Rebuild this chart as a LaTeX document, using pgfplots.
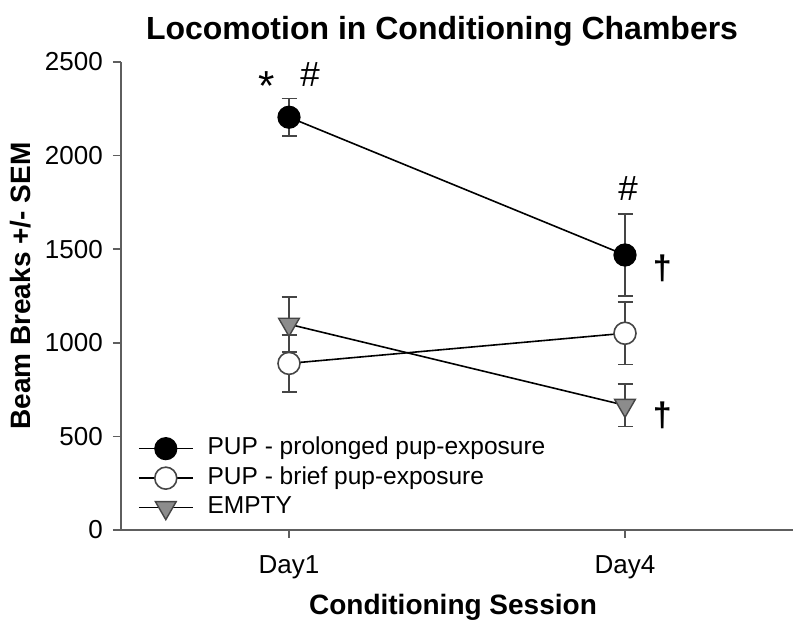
\documentclass[border=0pt]{standalone}
\usepackage{fontspec}
\setmainfont{Liberation Sans}
\usepackage{pgfplots}
\pgfplotsset{compat=1.18}
\definecolor{axgray}{HTML}{5E5E5E}
\definecolor{errgray}{HTML}{454545}
\definecolor{trigray}{HTML}{8C8C8C}
\begin{document}
\begin{tikzpicture}
\begin{axis}[
  at={(121pt,101pt)}, anchor=south west,
  scale only axis, width=672pt, height=468pt,
  xmin=0.5, xmax=2.5, ymin=0, ymax=2500,
  axis lines=left, axis line style={-, axgray, line width=2.2pt},
  xtick={1,2}, xticklabels={Day1,Day4},
  ytick={0,500,1000,1500,2000,2500},
  tick align=outside, major tick length=8pt,
  tick style={axgray, line width=1.6pt},
  /pgf/number format/assume math mode=true,
  /pgf/number format/1000 sep={},
  ticklabel style={font=\fontsize{26}{30}\selectfont, inner sep=0pt},
  yticklabel style={anchor=east, xshift=-10pt},
  xticklabel style={anchor=base, yshift=-36pt},
  title={Locomotion in Conditioning Chambers},
  title style={at={(rel axis cs:0.4777,1.0363)}, anchor=base, inner sep=0pt, font=\bfseries\fontsize{32}{36}\selectfont},
  xlabel={Conditioning Session},
  xlabel style={at={(rel axis cs:0.494,-0.1795)}, anchor=base, inner sep=0pt, font=\bfseries\fontsize{28}{32}\selectfont},
  ylabel={Beam Breaks +/- SEM},
  ylabel style={at={(rel axis cs:-0.1354,0.521)}, anchor=base, inner sep=0pt, font=\bfseries\fontsize{28}{32}\selectfont},
  legend style={at={(rel axis cs:0.025,0.202)}, anchor=north west, draw=none, fill=none,
    font=\fontsize{24.5}{28}\selectfont, inner sep=0pt, row sep=3.5pt,
    nodes={text height=17pt, text depth=5pt}},
  legend cell align=left,
  legend image code/.code={\draw[mark repeat=2,mark phase=2] plot coordinates {(0pt,0pt)(27pt,0pt)(54pt,0pt)};
    \path (66pt,0pt);},
  clip=false,
]
% PUP - prolonged pup-exposure
\addplot[black, line width=1.6pt, mark=*, mark size=11pt,
  mark options={fill=black, draw=black, line width=1.2pt},
  error bars/.cd, y dir=both, y explicit,
  error bar style={errgray, line width=1.6pt},
  error mark options={rotate=90, mark size=7.5pt, errgray, line width=1.6pt}]
  coordinates {(1,2205) +- (0,101) (2,1469) +- (0,219)};
\addlegendentry{PUP - prolonged pup-exposure}
% PUP - brief pup-exposure
\addplot[black, line width=1.6pt, mark=*, mark size=11pt,
  mark options={fill=white, draw=errgray, line width=1.6pt},
  error bars/.cd, y dir=both, y explicit,
  error bar style={errgray, line width=1.6pt},
  error mark options={rotate=90, mark size=7.5pt, errgray, line width=1.6pt}]
  coordinates {(1,890) +- (0,152) (2,1051) +- (0,166)};
\addlegendentry{PUP - brief pup-exposure}
% EMPTY
\addplot[black, line width=1.6pt, mark=triangle*, mark size=12pt,
  mark options={fill=trigray, draw=errgray, line width=1.4pt, rotate=180},
  error bars/.cd, y dir=both, y explicit,
  error bar style={errgray, line width=1.6pt},
  error mark options={rotate=90, mark size=7.5pt, errgray, line width=1.6pt}]
  coordinates {(1,1099) +- (0,147) (2,666) +- (0,114)};
\addlegendentry{EMPTY}
% significance marks
\node[font=\fontsize{42}{42}\selectfont, inner sep=0pt, anchor=north] at (axis cs:0.934,2452) {*};
\node[font=\fontsize{35}{35}\selectfont, inner sep=0pt] at (axis cs:1.063,2431) {\#};
\node[font=\fontsize{35}{35}\selectfont, inner sep=0pt] at (axis cs:2.009,1822) {\#};
\node[font=\bfseries\fontsize{34}{34}\selectfont, inner sep=0pt] at (axis cs:2.111,1397) {†};
\node[font=\bfseries\fontsize{34}{34}\selectfont, inner sep=0pt] at (axis cs:2.111,614) {†};
\end{axis}
\pgfresetboundingbox
\path (0,0) rectangle (800pt,631pt);
\end{tikzpicture}
\end{document}
